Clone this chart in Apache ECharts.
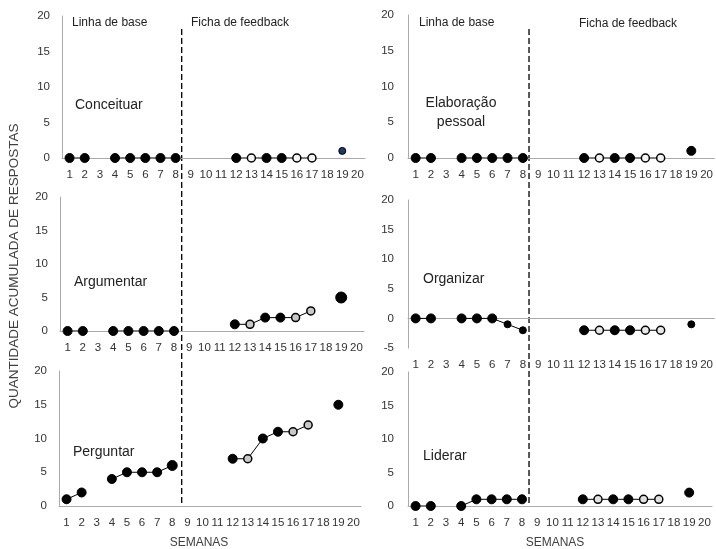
<!DOCTYPE html>
<html><head><meta charset="utf-8">
<script src="https://cdn.jsdelivr.net/npm/echarts@6/dist/echarts.min.js"></script>
<style>html,body{margin:0;padding:0;background:#fff}#c{width:716px;height:549px}</style>
</head><body><div id="c"></div>
<script>
const weeks = ['1','2','3','4','5','6','7','8','9','10','11','12','13','14','15','16','17','18','19','20'];
const conceituar = [0,0,null,0,0,0,0,0,null,null,null,0,0,0,0,0,0,null,1,null];
const elaboracao = [0,0,null,0,0,0,0,0,null,null,null,0,0,0,0,0,0,null,1,null];
const argumentar = [0,0,null,0,0,0,0,0,null,null,null,1,1,2,2,2,3,null,5,null];
const organizar = [0,0,null,0,0,0,-1,-2,null,null,null,-2,-2,-2,-2,-2,-2,null,-1,null];
const perguntar = [1,2,null,4,5,5,5,6,null,null,null,7,7,10,11,11,12,null,15,null];
const liderar = [0,0,null,0,1,1,1,1,null,null,null,1,1,1,1,1,1,null,2,null];
const hollowWeeks = ['13','16','17'];
const panelNames = ['Conceituar','Elaboração\npessoal','Argumentar','Organizar','Perguntar','Liderar'];
const phaseLabels = ['Linha de base','Ficha de feedback'];
const axisTitle = 'QUANTIDADE ACUMULADA DE RESPOSTAS';
const xTitle = 'SEMANAS';

const panels = [
  {data: conceituar, grid:{left:62,top:16,width:303,height:142}, min:0},
  {data: elaboracao, grid:{left:408,top:15,width:307,height:143}, min:0},
  {data: argumentar, grid:{left:60,top:197,width:304,height:134}, min:0},
  {data: organizar, grid:{left:408,top:200,width:307,height:148}, min:-5},
  {data: perguntar, grid:{left:59,top:371,width:302,height:135}, min:0},
  {data: liderar, grid:{left:408,top:372,width:304,height:134}, min:0}
];
const font = 'Liberation Sans, Arial, sans-serif';
const hollowFill = ['#f4f4f4','#f4f4f4','#c8c8c8','#e8e8e8','#c8c8c8','#e0e0e0'];

const option = {
  animation:false,
  backgroundColor:'#fff',
  grid: panels.map(p=>p.grid),
  xAxis: panels.map((p,i)=>({
    type:'category', gridIndex:i, data:weeks, boundaryGap:true,
    axisLine:{show:true,onZero:true,lineStyle:{color:'#aaaaaa',width:1}},
    axisTick:{show:false},
    axisLabel:{interval:0,margin:11,fontSize:11.5,color:'#333',fontFamily:font}
  })),
  yAxis: panels.map((p,i)=>({
    type:'value', gridIndex:i, min:p.min, max:20, interval:5,
    axisLine:{show:true,lineStyle:{color:'#aaaaaa',width:1}},
    axisTick:{show:false}, splitLine:{show:false},
    axisLabel:{margin:i%2===0?12:14,fontSize:11.5,color:'#333',fontFamily:font}
  })),
  series: panels.map((p,i)=>({
    type:'line', xAxisIndex:i, yAxisIndex:i, connectNulls:false,
    symbol:'circle',
    lineStyle:{color:'#000',width:1},
    data: p.data.map((v,k)=>{
      if (v===null) return null;
      const wk = weeks[k];
      const hollow = hollowWeeks.includes(wk);
      let size = hollow ? 8 : 9;
      if (i===3 && (wk==='7'||wk==='8'||wk==='19')) size = 7;
      if (i===2 && wk==='19') size = 11;
      if (i===4 && wk==='8') size = 10;
      let fill = hollow ? hollowFill[i] : '#000';
      if (i===0 && wk==='19') { fill='#1f3a6a'; size=7; }
      return {value:v, symbolSize:size,
        itemStyle:{color:fill,borderColor:'#000',borderWidth:hollow?1.5:1}};
    })
  })),
  graphic: []
};

const chart = echarts.init(document.getElementById('c'),null,{renderer:'canvas'});
chart.setOption(option);

const g = [];
function txt(x,y,t,opts){ g.push({type:'text',x:x,y:y,style:Object.assign({text:t,fill:'#222',font:'12px '+font,textAlign:'left',textVerticalAlign:'middle'},opts||{})}); }
txt(72,23,phaseLabels[0]); txt(191,23,phaseLabels[1]);
txt(419,23,phaseLabels[0]); txt(579,24,phaseLabels[1]);
txt(75,105,panelNames[0],{font:'14px '+font});
txt(461,113,panelNames[1],{font:'14px '+font,textAlign:'center',lineHeight:19});
txt(74,282,panelNames[2],{font:'14px '+font});
txt(423,279,panelNames[3],{font:'14px '+font});
txt(73,452,panelNames[4],{font:'14px '+font});
txt(423,456,panelNames[5],{font:'14px '+font});
txt(199,543,xTitle,{textAlign:'center',fill:'#404040'});
txt(555,543,xTitle,{textAlign:'center',fill:'#404040'});
g.push({type:'text',x:14,y:266,rotation:Math.PI/2,style:{text:axisTitle,fill:'#404040',font:'13.5px '+font,textAlign:'center',textVerticalAlign:'middle'}});
[[0,4],[1,5]].forEach(([top,bot])=>{
  const x = (chart.convertToPixel({xAxisIndex:top},'8')+chart.convertToPixel({xAxisIndex:top},'9'))/2 - 1.5;
  const y0 = 29;
  const y1 = chart.convertToPixel({yAxisIndex:bot},0);
  g.push({type:'line',shape:{x1:x,y1:y0,x2:x,y2:y1},style:{stroke:'#000',lineWidth:1.3,lineDash:[6,3]}});
});
chart.setOption({graphic:g});
</script></body></html>
